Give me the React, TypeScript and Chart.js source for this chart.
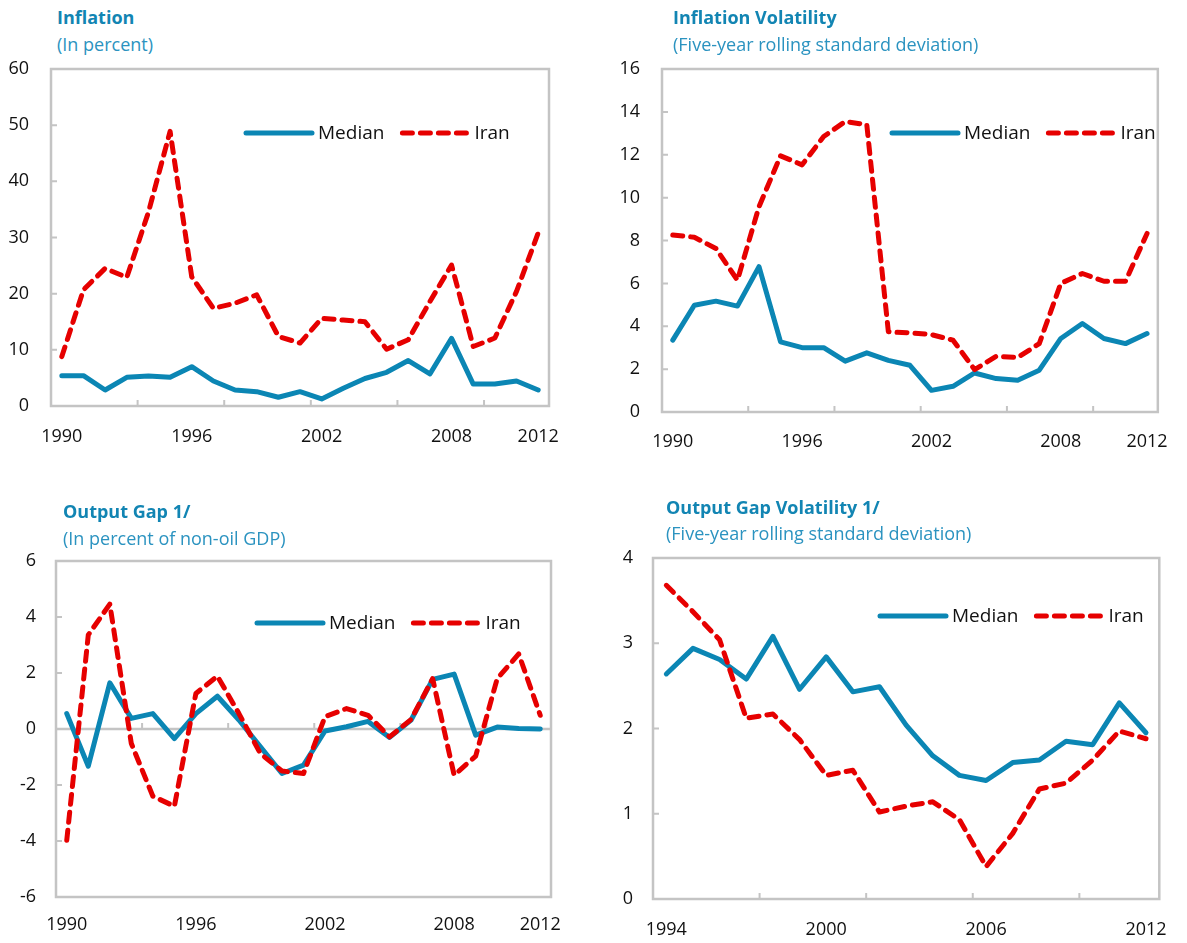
import React, { useEffect, useRef } from 'react';
import { Chart, registerables } from 'chart.js';

Chart.register(...registerables);

// ---------- data ----------
const YEARS_1990 = ['1990', '1991', '1992', '1993', '1994', '1995', '1996', '1997', '1998', '1999', '2000', '2001', '2002', '2003', '2004', '2005', '2006', '2007', '2008', '2009', '2010', '2011', '2012'];
const YEARS_1994 = ['1994', '1995', '1996', '1997', '1998', '1999', '2000', '2001', '2002', '2003', '2004', '2005', '2006', '2007', '2008', '2009', '2010', '2011', '2012'];
const SHOWN_1990 = ['1990', '1996', '2002', '2008', '2012'];
const SHOWN_1994 = ['1994', '2000', '2006', '2012'];

const inflationMedian = [5.4, 5.4, 2.85, 5.1, 5.35, 5.1, 7.0, 4.45, 2.85, 2.55, 1.55, 2.55, 1.25, 3.15, 4.9, 6.0, 8.1, 5.7, 12.05, 3.9, 3.9, 4.45, 2.85];
const inflationIran = [8.8, 20.7, 24.5, 22.9, 34.5, 48.9, 23.0, 17.4, 18.3, 19.8, 12.4, 11.2, 15.6, 15.3, 15.0, 10.1, 11.8, 18.6, 25.1, 10.6, 12.1, 20.4, 30.8];

const inflVolMedian = [3.35, 4.98, 5.17, 4.94, 6.78, 3.27, 3.0, 3.0, 2.37, 2.76, 2.41, 2.18, 1.01, 1.2, 1.82, 1.56, 1.48, 1.95, 3.43, 4.13, 3.43, 3.19, 3.66];
const inflVolIran = [8.26, 8.15, 7.63, 6.15, 9.58, 11.95, 11.53, 12.85, 13.55, 13.4, 3.74, 3.69, 3.61, 3.35, 1.98, 2.6, 2.54, 3.19, 6.0, 6.46, 6.1, 6.1, 8.33];

const gapMedian = [0.55, -1.33, 1.65, 0.38, 0.55, -0.34, 0.55, 1.17, 0.32, -0.64, -1.59, -1.29, -0.07, 0.08, 0.27, -0.3, 0.32, 1.77, 1.96, -0.22, 0.07, 0.02, 0.0];
const gapIran = [-3.97, 3.36, 4.46, -0.52, -2.4, -2.76, 1.27, 1.89, 0.55, -0.88, -1.5, -1.59, 0.44, 0.73, 0.49, -0.28, 0.34, 1.8, -1.65, -0.97, 1.8, 2.68, 0.49];

const gapVolMedian = [2.64, 2.94, 2.81, 2.58, 3.08, 2.46, 2.84, 2.43, 2.49, 2.04, 1.68, 1.45, 1.39, 1.6, 1.63, 1.85, 1.81, 2.3, 1.95];
const gapVolIran = [3.68, 3.37, 3.04, 2.12, 2.17, 1.87, 1.45, 1.51, 1.02, 1.09, 1.14, 0.93, 0.38, 0.77, 1.29, 1.36, 1.63, 1.97, 1.88];

// ---------- style ----------
const W = 1187;
const H = 943;
const FONT = "'Open Sans', sans-serif";
const BLUE = '#0b86b4';
const RED = '#e60000';
const GRAY = '#c4c4c4';
const TEXT = '#111111';
const TITLE_COLOR = '#1285b3';
const SUB_COLOR = '#2b93c0';

Chart.defaults.font.family = FONT;

type Panel = {
  title: string;
  subtitle: string;
  titleX: number;
  titleY: number;
  subY: number;
  labels: string[];
  shown: string[];
  median: number[];
  iran: number[];
  area: { l: number; t: number; r: number; b: number };
  yMin: number;
  yMax: number;
  yStep: number;
  xPad: number;
  yPad: number;
  legend: { dx: number; dy: number };
};

const PANELS: Panel[] = [
  {
    title: 'Inflation', subtitle: '(In percent)', titleX: 57, titleY: 17, subY: 44,
    labels: YEARS_1990, shown: SHOWN_1990, median: inflationMedian, iran: inflationIran,
    area: { l: 51, t: 69, r: 549, b: 406 }, yMin: 0, yMax: 60, yStep: 10, xPad: 20, yPad: 22,
    legend: { dx: 195, dy: 64 },
  },
  {
    title: 'Inflation Volatility', subtitle: '(Five-year rolling standard deviation)', titleX: 673, titleY: 17, subY: 44,
    labels: YEARS_1990, shown: SHOWN_1990, median: inflVolMedian, iran: inflVolIran,
    area: { l: 662, t: 69, r: 1170, b: 412 }, yMin: 0, yMax: 16, yStep: 2, xPad: 19, yPad: 22,
    legend: { dx: 230, dy: 64 },
  },
  {
    title: 'Output Gap 1/', subtitle: '(In percent of non-oil GDP)', titleX: 63, titleY: 511, subY: 538,
    labels: YEARS_1990, shown: SHOWN_1990, median: gapMedian, iran: gapIran,
    area: { l: 56, t: 561, r: 551, b: 897 }, yMin: -6, yMax: 6, yStep: 2, xPad: 17, yPad: 20,
    legend: { dx: 201, dy: 62 },
  },
  {
    title: 'Output Gap Volatility 1/', subtitle: '(Five-year rolling standard deviation)', titleX: 666, titleY: 507, subY: 533,
    labels: YEARS_1994, shown: SHOWN_1994, median: gapVolMedian, iran: gapVolIran,
    area: { l: 653, t: 558, r: 1170, b: 899 }, yMin: 0, yMax: 4, yStep: 1, xPad: 20, yPad: 20,
    legend: { dx: 227, dy: 58 },
  },
];

const TICK_EVERY = 4;
const TICK_START = 3;

function decorPlugin(p: Panel) {
  return {
    id: 'decor',
    beforeDatasetsDraw(chart: any) {
      const { ctx, chartArea: a, scales } = chart;
      const x = scales.x;
      const y = scales.y;
      ctx.save();
      ctx.strokeStyle = GRAY;
      ctx.lineWidth = 2.5;
      ctx.strokeRect(a.left, a.top, a.right - a.left, a.bottom - a.top);
      let baseY = a.bottom;
      if (p.yMin < 0) {
        baseY = y.getPixelForValue(0);
        ctx.beginPath();
        ctx.moveTo(a.left, baseY);
        ctx.lineTo(a.right, baseY);
        ctx.stroke();
      }
      ctx.lineWidth = 2;
      const n = chart.data.labels.length;
      ctx.beginPath();
      for (let i = TICK_START; i < n - 1; i += TICK_EVERY) {
        const px = x.getPixelForValue(i + 0.5);
        ctx.moveTo(px, baseY);
        ctx.lineTo(px, baseY - 6);
      }
      y.ticks.forEach((t: any) => {
        const py = y.getPixelForValue(t.value);
        ctx.moveTo(a.left, py);
        ctx.lineTo(a.left + 6, py);
      });
      ctx.stroke();
      ctx.restore();
    },
    afterDatasetsDraw(chart: any) {
      const { ctx, chartArea: a } = chart;
      const x0 = a.left + p.legend.dx;
      const yy = a.top + p.legend.dy;
      const len = 66;
      ctx.save();
      ctx.lineCap = 'round';
      ctx.lineWidth = 5;
      ctx.strokeStyle = BLUE;
      ctx.beginPath();
      ctx.moveTo(x0, yy);
      ctx.lineTo(x0 + len, yy);
      ctx.stroke();
      ctx.font = `19px ${FONT}`;
      ctx.fillStyle = TEXT;
      ctx.textBaseline = 'middle';
      ctx.textAlign = 'left';
      const t1x = x0 + len + 6;
      ctx.fillText('Median', t1x, yy + 1);
      const w1 = ctx.measureText('Median').width;
      const x1 = t1x + w1 + 18;
      ctx.strokeStyle = RED;
      ctx.setLineDash([10, 8]);
      ctx.beginPath();
      ctx.moveTo(x1, yy);
      ctx.lineTo(x1 + len, yy);
      ctx.stroke();
      ctx.setLineDash([]);
      ctx.fillText('Iran', x1 + len + 6, yy + 1);
      ctx.restore();
    },
  };
}

function makeChart(canvas: HTMLCanvasElement, p: Panel) {
  const { l, t, r, b } = p.area;
  return new Chart(canvas, {
    type: 'line',
    data: {
      labels: p.labels,
      datasets: [
        {
          label: 'Median', data: p.median, borderColor: BLUE, backgroundColor: BLUE, borderWidth: 5,
          pointRadius: 0, tension: 0, borderCapStyle: 'round', borderJoinStyle: 'round', fill: false, order: 1,
        },
        {
          label: 'Iran', data: p.iran, borderColor: RED, backgroundColor: RED, borderWidth: 5, borderDash: [10, 8],
          pointRadius: 0, tension: 0, borderCapStyle: 'round', borderJoinStyle: 'round', fill: false, order: 0,
        },
      ],
    },
    options: {
      responsive: false,
      animation: false,
      devicePixelRatio: 1,
      events: [],
      layout: { padding: { top: t, right: W - r, bottom: 0, left: 0 } },
      plugins: { legend: { display: false }, tooltip: { enabled: false }, title: { display: false } },
      scales: {
        x: {
          type: 'category',
          offset: true,
          grid: { display: false, drawTicks: false },
          border: { display: false },
          ticks: {
            autoSkip: false,
            maxRotation: 0,
            minRotation: 0,
            padding: p.xPad,
            color: TEXT,
            font: { size: 18, family: FONT },
            callback: (_v: any, i: number) => (p.shown.includes(p.labels[i]) ? p.labels[i] : ''),
          },
          afterFit: (s: any) => { s.height = H - b; },
        },
        y: {
          type: 'linear',
          min: p.yMin,
          max: p.yMax,
          grid: { display: false, drawTicks: false },
          border: { display: false },
          ticks: { stepSize: p.yStep, padding: p.yPad, color: TEXT, font: { size: 18, family: FONT } },
          afterFit: (s: any) => { s.width = l; },
        },
      },
    },
    plugins: [decorPlugin(p)],
  } as any);
}

function ChartLayer({ p }: { p: Panel }) {
  const ref = useRef<HTMLCanvasElement | null>(null);
  useEffect(() => {
    if (!ref.current) return;
    const c = makeChart(ref.current, p);
    return () => c.destroy();
  }, [p]);
  return (
    <canvas
      ref={ref}
      width={W}
      height={H}
      style={{ position: 'absolute', left: 0, top: 0, width: W, height: H }}
    />
  );
}

export default function App() {
  useEffect(() => {
    document.body.style.margin = '0';
    document.body.style.background = '#ffffff';
  }, []);
  return (
    <div style={{ position: 'relative', width: W, height: H, background: '#fff', overflow: 'hidden', fontFamily: FONT }}>
      {PANELS.map((p, i) => (
        <React.Fragment key={i}>
          <div style={{ position: 'absolute', left: p.titleX, top: p.titleY - 12, lineHeight: '24px', fontSize: 18, fontWeight: 700, color: TITLE_COLOR, whiteSpace: 'nowrap' }}>
            {p.title}
          </div>
          <div style={{ position: 'absolute', left: p.titleX, top: p.subY - 12, lineHeight: '24px', fontSize: 18, fontWeight: 400, color: SUB_COLOR, whiteSpace: 'nowrap' }}>
            {p.subtitle}
          </div>
          <ChartLayer p={p} />
        </React.Fragment>
      ))}
    </div>
  );
}
